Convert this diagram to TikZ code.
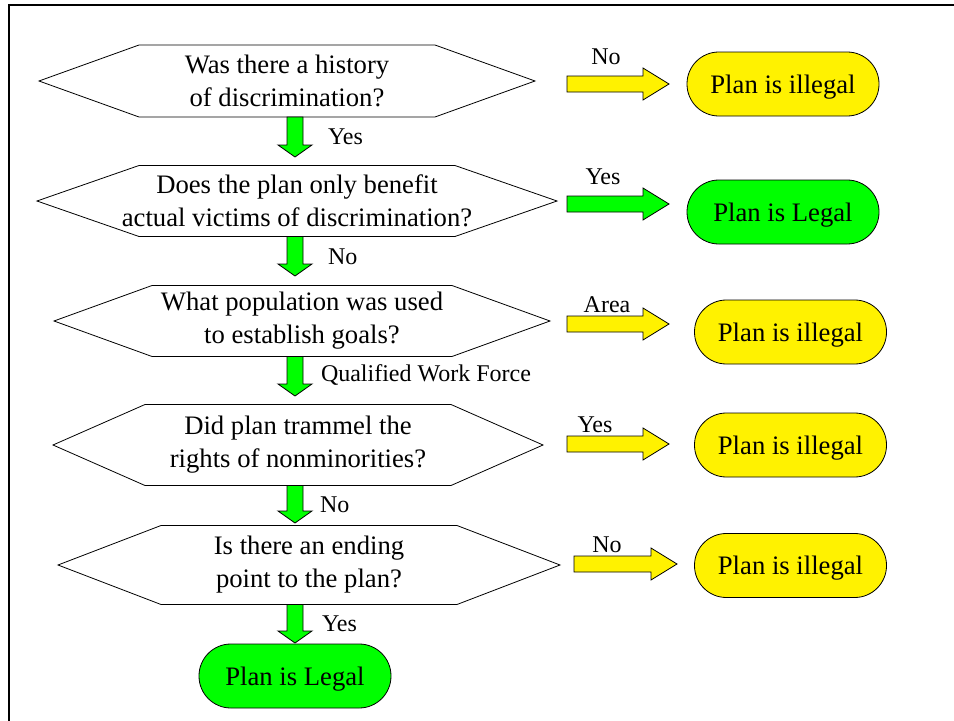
\documentclass[tikz,border=0pt]{standalone}
\usepackage{fontspec}
\setmainfont{Liberation Serif}
\usepackage{xcolor}
\usepackage{tikz}
\usetikzlibrary{calc,positioning}

% hexagon round a question node, #2 = how far the points stick out
\newcommand{\hexframe}[2]{%
  \draw[line width=0.6pt] (#1.north west) -- (#1.north east) -- ($(#1.east)+(#2,0)$)
    -- (#1.south east) -- (#1.south west) -- ($(#1.west)+(-#2,0)$) -- cycle;}

\begin{document}
\begin{tikzpicture}[x=0.75pt,y=-0.75pt,every node/.style={inner sep=0pt,outer sep=0pt}]
\tikzset{question/.style={align=center,font=\fontsize{20}{24.75}\selectfont},
  result/.style={draw,line width=0.6pt,rounded corners=23.9pt,minimum width=144pt,minimum height=48pt,text depth=0pt,font=\fontsize{20}{24}\selectfont},
  answer/.style={font=\fontsize{18}{21}\selectfont},
  fatdown/.style={draw,line width=0.6pt,to path={($(\tikztostart)+(-8,0)$) -- ($(\tikztotarget)+(-8,-12)$)
      -- ($(\tikztotarget)+(-17,-12)$) -- (\tikztotarget) -- ($(\tikztotarget)+(17,-12)$)
      -- ($(\tikztotarget)+(8,-12)$) -- ($(\tikztostart)+(8,0)$) -- cycle}},
  fatright/.style={draw,line width=0.6pt,to path={($(\tikztostart)+(0,-8)$) -- ($(\tikztotarget)+(-26,-8)$)
      -- ($(\tikztotarget)+(-26,-16)$) -- (\tikztotarget) -- ($(\tikztotarget)+(-26,16)$)
      -- ($(\tikztotarget)+(-26,8)$) -- ($(\tikztostart)+(0,8)$) -- cycle}}}

  \useasboundingbox (0,0) rectangle (954,721);
  \draw[line width=1.5pt] (954,5) -- (8.5,5) -- (8.5,721);

  \node(Q1) [question,minimum width=222pt,minimum height=54pt] at (287,81) {Was there a history\\of discrimination?};
  \node(Q2) [question,minimum width=237pt,minimum height=53.25pt] at (297,201) {Does the plan only benefit\\\makebox[0pt]{actual victims of discrimination?}};
  \node(Q3) [question,minimum width=225pt,minimum height=53.25pt] at (302,321) {What population was used\\to establish goals?};
  \node(Q4) [question,minimum width=229.5pt,minimum height=60.75pt] at (298,445) {Did plan trammel the\\rights of nonminorities?};
  \node(Q5) [question,minimum width=222pt,minimum height=59.25pt] at (309,565) {Is there an ending\\point to the plan?};
  \hexframe{Q1}{100}
  \hexframe{Q2}{102}
  \hexframe{Q3}{98}
  \hexframe{Q4}{92}
  \hexframe{Q5}{103}

  \node(R1) [result,fill=yellow] at (783,84) {Plan is illegal};
  \node(R2) [result,fill=green] at (783,212) {Plan is Legal};
  \node(R3) [result,fill=yellow] at (790.5,332) {Plan is illegal};
  \node(R4) [result,fill=yellow] at (790.5,445) {Plan is illegal};
  \node(R5) [result,fill=yellow] at (790.5,565.5) {Plan is illegal};
  \node(R6) [result,fill=green] at (295,676) {Plan is Legal};

  \coordinate (D1) at (295,157);
  \coordinate (D2) at (295,276);
  \coordinate (D3) at (295,396);
  \coordinate (D4) at (295,523);
  \coordinate (D5) at (295,643);
  \path[fatdown,fill=green] (Q1.south -| D1) to (D1);
  \path[fatdown,fill=green] (Q2.south -| D2) to (D2);
  \path[fatdown,fill=green] (Q3.south -| D3) to (D3);
  \path[fatdown,fill=green] (Q4.south -| D4) to (D4);
  \path[fatdown,fill=green] (Q5.south -| D5) to (D5);

  \coordinate (S1) at (567,84);   \coordinate (E1) at (669,84);
  \coordinate (S2) at (567,204);  \coordinate (E2) at (669,204);
  \coordinate (S3) at (567,324);  \coordinate (E3) at (669,324);
  \coordinate (S4) at (567,444);  \coordinate (E4) at (669,444);
  \coordinate (S5) at (574,564);  \coordinate (E5) at (677,564);
  \path[fatright,fill=yellow] (S1) to (E1);
  \path[fatright,fill=green] (S2) to (E2);
  \path[fatright,fill=yellow] (S3) to (E3);
  \path[fatright,fill=yellow] (S4) to (E4);
  \path[fatright,fill=yellow] (S5) to (E5);

  \node(A1) [answer,anchor=west] at (328,137) {Yes};
  \node(A2) [answer,anchor=west] at (328,257) {No};
  \node(A3) [answer,anchor=west] at (321,375) {Qualified Work Force};
  \node(A4) [answer,anchor=west] at (320,505) {No};
  \node(A5) [answer,anchor=west] at (322,624) {Yes};

  \node(B1) [answer] at (606,57) {No};
  \node(B2) [answer] at (603,177) {Yes};
  \node(B3) [answer] at (607,305) {Area};
  \node(B4) [answer] at (595,425) {Yes};
  \node(B5) [answer] at (607,545) {No};
\end{tikzpicture}
\end{document}
